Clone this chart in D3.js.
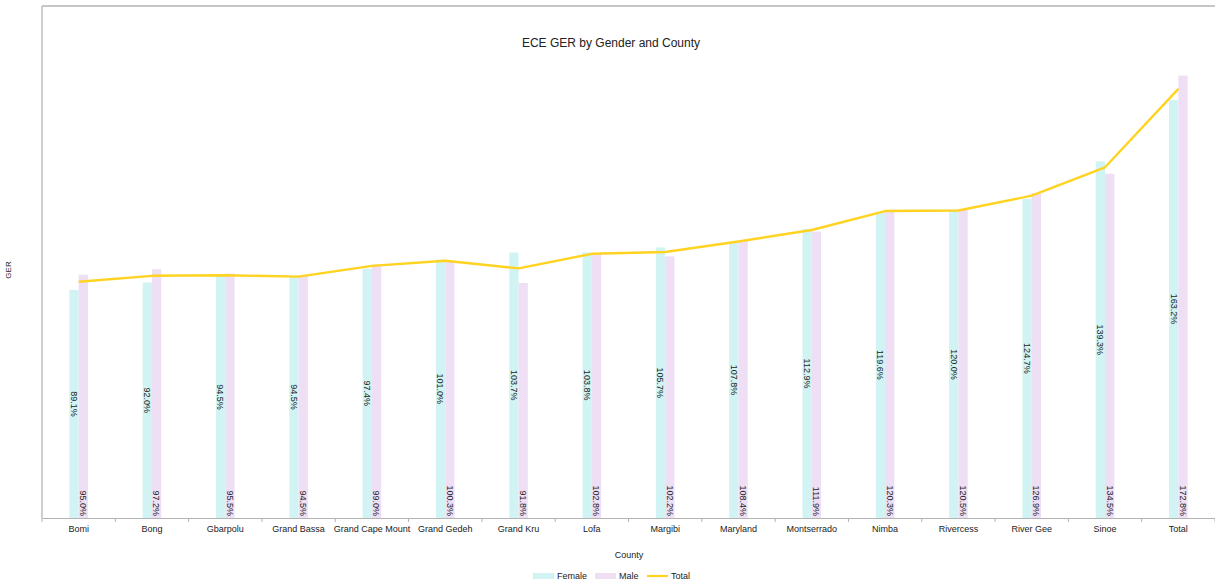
<!DOCTYPE html>
<html>
<head>
<meta charset="utf-8">
<script src="https://cdn.jsdelivr.net/npm/d3@7"></script>
<style>
  html, body { margin: 0; padding: 0; background: #fff; }
  text { font-family: "Liberation Sans", Arial, sans-serif; }
</style>
</head>
<body>
<svg id="chart" width="1215" height="586"></svg>
<script>
const categories = ["Bomi", "Bong", "Gbarpolu", "Grand Bassa", "Grand Cape Mount", "Grand Gedeh", "Grand Kru", "Lofa", "Margibi", "Maryland", "Montserrado", "Nimba", "Rivercess", "River Gee", "Sinoe", "Total"];
const femaleValues = [89.1, 92.0, 94.5, 94.5, 97.4, 101.0, 103.7, 103.8, 105.7, 107.8, 112.9, 119.6, 120.0, 124.7, 139.3, 163.2];
const maleValues = [95.0, 97.2, 95.5, 94.5, 99.0, 100.3, 91.8, 102.8, 102.2, 108.4, 111.9, 120.3, 120.5, 126.9, 134.5, 172.8];
const totalValues = [92.3, 94.6, 94.8, 94.3, 98.5, 100.5, 97.5, 103.2, 103.9, 108.0, 112.5, 119.9, 120.1, 125.9, 137.0, 167.6];
const seriesNames = ["Female", "Male", "Total"];

(function () {
const svg = d3.select("#chart");
const pLeft = 42, pRight = 1215, pTop = 6, pBottom = 518;
const colF = "#d2f3f3", colM = "#eedff5", colT = "#ffd320";

const x = d3.scaleBand().domain(categories).range([pLeft, pRight]).paddingInner(0).paddingOuter(0);
const y = d3.scaleLinear().domain([0, 200]).range([pBottom, pTop]);
const barW = 9.3;

// frame (top + left)
svg.append("line").attr("x1", pLeft).attr("x2", pRight).attr("y1", pTop).attr("y2", pTop)
  .attr("stroke", "#b3b3b3").attr("stroke-width", 1.3);
svg.append("line").attr("x1", pLeft).attr("x2", pLeft).attr("y1", pTop).attr("y2", pBottom)
  .attr("stroke", "#b3b3b3").attr("stroke-width", 1.3);

// bars
const g = svg.append("g");
categories.forEach((c, i) => {
  const cx = x(c) + x.bandwidth() / 2;
  g.append("rect").attr("x", cx - barW).attr("width", barW)
    .attr("y", y(femaleValues[i])).attr("height", y(0) - y(femaleValues[i])).attr("fill", colF);
  g.append("rect").attr("x", cx).attr("width", barW)
    .attr("y", y(maleValues[i])).attr("height", y(0) - y(maleValues[i])).attr("fill", colM);
});

// x axis
const xAxis = d3.axisBottom(x).tickSize(0).tickPadding(8);
const ax = svg.append("g").attr("transform", `translate(0,${pBottom})`).call(xAxis);
ax.select(".domain").attr("stroke", "#b3b3b3");
ax.selectAll("text").attr("font-size", 9).attr("fill", "#222").attr("font-family", "Liberation Sans, Arial, sans-serif");
// boundary ticks
const bounds = categories.map(c => x(c)).concat([pRight]);
svg.append("g").selectAll("line").data(bounds).join("line")
  .attr("x1", d => d).attr("x2", d => d).attr("y1", pBottom).attr("y2", pBottom + 4)
  .attr("stroke", "#b3b3b3");

// total line
const line = d3.line().x((d, i) => x(categories[i]) + x.bandwidth() / 2).y(d => y(d));
svg.append("path").datum(totalValues).attr("d", line)
  .attr("fill", "none").attr("stroke", colT).attr("stroke-width", 2.4).attr("stroke-linejoin", "round");

// labels
categories.forEach((c, i) => {
  const cx = x(c) + x.bandwidth() / 2;
  const fx = cx - barW / 2, mx = cx + barW / 2;
  const fy = (y(femaleValues[i]) + y(0)) / 2;
  svg.append("text").attr("transform", `translate(${fx},${fy}) rotate(90)`)
    .attr("text-anchor", "middle").attr("dy", "0.35em")
    .attr("font-size", 9).attr("fill", "#222").text(femaleValues[i].toFixed(1) + "%");
  svg.append("text").attr("transform", `translate(${mx},${pBottom - 2}) rotate(90)`)
    .attr("text-anchor", "end").attr("dy", "0.35em")
    .attr("font-size", 9).attr("fill", "#222").text(maleValues[i].toFixed(1) + "%");
});

// title
svg.append("text").attr("x", 611).attr("y", 47).attr("text-anchor", "middle")
  .attr("font-size", 12).attr("fill", "#222").text("ECE GER by Gender and County");
// axis titles
svg.append("text").attr("x", 629).attr("y", 558).attr("text-anchor", "middle")
  .attr("font-size", 9).attr("fill", "#222").text("County");
svg.append("text").attr("transform", "translate(11,270) rotate(-90)").attr("text-anchor", "middle")
  .attr("font-size", 8).attr("fill", "#222").text("GER");

// legend
const legend = svg.append("g");
const legItems = [
  {name: seriesNames[0], x: 533, type: "rect", color: colF},
  {name: seriesNames[1], x: 595, type: "rect", color: colM},
  {name: seriesNames[2], x: 647, type: "line", color: colT}
];
legItems.forEach(d => {
  if (d.type === "rect") {
    legend.append("rect").attr("x", d.x).attr("y", 573).attr("width", 21).attr("height", 6).attr("fill", d.color);
  } else {
    legend.append("line").attr("x1", d.x).attr("x2", d.x + 21).attr("y1", 576).attr("y2", 576)
      .attr("stroke", d.color).attr("stroke-width", 2.2);
  }
  legend.append("text").attr("x", d.x + 24).attr("y", 579).attr("font-size", 9).attr("fill", "#222").text(d.name);
});
})();
</script>
</body>
</html>
